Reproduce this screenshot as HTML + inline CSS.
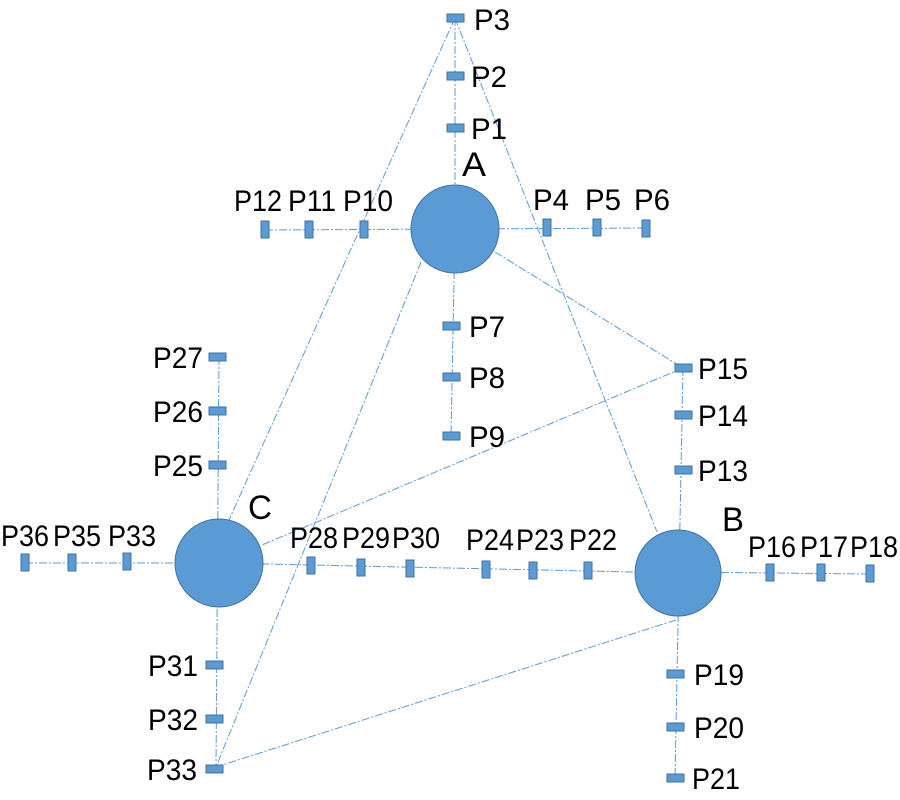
<!DOCTYPE html>
<html><head><meta charset="utf-8"><style>body{margin:0;background:#fff}svg{display:block}</style></head><body>
<svg width="900" height="800" viewBox="0 0 900 800" xmlns="http://www.w3.org/2000/svg">
<g stroke="#5b9bd5" stroke-width="1" fill="none" stroke-dasharray="8,2,2,2">
<line x1="455" y1="18" x2="455" y2="229"/>
<line x1="455" y1="18" x2="229" y2="520"/>
<line x1="455" y1="18" x2="657" y2="532"/>
<line x1="455" y1="229" x2="451" y2="436"/>
<line x1="265" y1="230" x2="455" y2="229"/>
<line x1="455" y1="229" x2="646" y2="228"/>
<line x1="495" y1="252" x2="683" y2="368"/>
<line x1="683" y1="368" x2="262" y2="545"/>
<line x1="683" y1="368" x2="679" y2="572"/>
<line x1="421" y1="262" x2="216" y2="767"/>
<line x1="676" y1="620" x2="216" y2="767"/>
<line x1="219" y1="357" x2="216" y2="769"/>
<line x1="25" y1="563" x2="219" y2="563"/>
<line x1="219" y1="563" x2="679" y2="573"/>
<line x1="679" y1="572" x2="870" y2="574"/>
<line x1="679" y1="572" x2="675" y2="778"/>
</g>
<g fill="#5b9bd5" stroke="#41719c" stroke-width="1">
<circle cx="455" cy="229" r="44"/>
<circle cx="678" cy="573" r="43"/>
<circle cx="219" cy="563" r="44"/>
<rect x="447" y="14" width="17" height="8"/>
<rect x="447" y="72" width="17" height="8"/>
<rect x="447" y="124" width="17" height="8"/>
<rect x="443" y="322" width="17" height="8"/>
<rect x="443" y="373" width="17" height="8"/>
<rect x="443" y="432" width="17" height="8"/>
<rect x="675" y="364" width="17" height="8"/>
<rect x="675" y="411" width="17" height="8"/>
<rect x="675" y="466" width="17" height="8"/>
<rect x="667" y="670" width="17" height="8"/>
<rect x="667" y="723" width="17" height="8"/>
<rect x="667" y="774" width="17" height="8"/>
<rect x="209" y="353" width="17" height="8"/>
<rect x="209" y="407" width="17" height="8"/>
<rect x="209" y="461" width="17" height="8"/>
<rect x="206" y="661" width="17" height="8"/>
<rect x="206" y="715" width="17" height="8"/>
<rect x="206" y="765" width="17" height="8"/>
<rect x="261" y="221" width="8" height="17"/>
<rect x="305" y="221" width="8" height="17"/>
<rect x="360" y="221" width="8" height="17"/>
<rect x="543" y="219" width="8" height="17"/>
<rect x="593" y="219" width="8" height="17"/>
<rect x="642" y="220" width="8" height="17"/>
<rect x="766" y="564" width="8" height="17"/>
<rect x="817" y="564" width="8" height="17"/>
<rect x="866" y="565" width="8" height="17"/>
<rect x="21" y="554" width="8" height="17"/>
<rect x="68" y="554" width="8" height="17"/>
<rect x="123" y="553" width="8" height="17"/>
<rect x="307" y="557" width="8" height="17"/>
<rect x="357" y="559" width="8" height="17"/>
<rect x="406" y="560" width="8" height="17"/>
<rect x="482" y="561" width="8" height="17"/>
<rect x="529" y="562" width="8" height="17"/>
<rect x="584" y="562" width="8" height="17"/>
</g>
<g font-family="Liberation Sans, sans-serif" font-size="30" fill="#000">
<text x="474" y="30" textLength="36" lengthAdjust="spacingAndGlyphs">P3</text>
<text x="471" y="87" textLength="36" lengthAdjust="spacingAndGlyphs">P2</text>
<text x="471" y="139" textLength="36" lengthAdjust="spacingAndGlyphs">P1</text>
<text x="462" y="176" font-size="34" textLength="24" lengthAdjust="spacingAndGlyphs">A</text>
<text x="234" y="211" textLength="48" lengthAdjust="spacingAndGlyphs">P12</text>
<text x="288" y="211" textLength="48" lengthAdjust="spacingAndGlyphs">P11</text>
<text x="343" y="211" textLength="50" lengthAdjust="spacingAndGlyphs">P10</text>
<text x="533" y="210" textLength="36" lengthAdjust="spacingAndGlyphs">P4</text>
<text x="585" y="210" textLength="36" lengthAdjust="spacingAndGlyphs">P5</text>
<text x="634" y="210" textLength="36" lengthAdjust="spacingAndGlyphs">P6</text>
<text x="469" y="337" textLength="36" lengthAdjust="spacingAndGlyphs">P7</text>
<text x="469" y="388" textLength="36" lengthAdjust="spacingAndGlyphs">P8</text>
<text x="469" y="447" textLength="36" lengthAdjust="spacingAndGlyphs">P9</text>
<text x="698" y="379" textLength="50" lengthAdjust="spacingAndGlyphs">P15</text>
<text x="698" y="426" textLength="50" lengthAdjust="spacingAndGlyphs">P14</text>
<text x="698" y="481" textLength="50" lengthAdjust="spacingAndGlyphs">P13</text>
<text x="722" y="531" font-size="34" textLength="22" lengthAdjust="spacingAndGlyphs">B</text>
<text x="748" y="557" textLength="48" lengthAdjust="spacingAndGlyphs">P16</text>
<text x="800" y="557" textLength="48" lengthAdjust="spacingAndGlyphs">P17</text>
<text x="850" y="557" textLength="48" lengthAdjust="spacingAndGlyphs">P18</text>
<text x="694" y="685" textLength="50" lengthAdjust="spacingAndGlyphs">P19</text>
<text x="694" y="738" textLength="50" lengthAdjust="spacingAndGlyphs">P20</text>
<text x="692" y="789" textLength="48" lengthAdjust="spacingAndGlyphs">P21</text>
<text x="248" y="519" font-size="34" textLength="24" lengthAdjust="spacingAndGlyphs">C</text>
<text x="153" y="368" textLength="50" lengthAdjust="spacingAndGlyphs">P27</text>
<text x="153" y="422" textLength="50" lengthAdjust="spacingAndGlyphs">P26</text>
<text x="153" y="476" textLength="50" lengthAdjust="spacingAndGlyphs">P25</text>
<text x="1" y="546" textLength="48" lengthAdjust="spacingAndGlyphs">P36</text>
<text x="53" y="546" textLength="48" lengthAdjust="spacingAndGlyphs">P35</text>
<text x="108" y="546" textLength="48" lengthAdjust="spacingAndGlyphs">P33</text>
<text x="290" y="548" textLength="48" lengthAdjust="spacingAndGlyphs">P28</text>
<text x="342" y="548" textLength="48" lengthAdjust="spacingAndGlyphs">P29</text>
<text x="392" y="548" textLength="48" lengthAdjust="spacingAndGlyphs">P30</text>
<text x="466" y="550" textLength="48" lengthAdjust="spacingAndGlyphs">P24</text>
<text x="516" y="550" textLength="48" lengthAdjust="spacingAndGlyphs">P23</text>
<text x="569" y="550" textLength="48" lengthAdjust="spacingAndGlyphs">P22</text>
<text x="148" y="676" textLength="50" lengthAdjust="spacingAndGlyphs">P31</text>
<text x="148" y="730" textLength="50" lengthAdjust="spacingAndGlyphs">P32</text>
<text x="147" y="780" textLength="50" lengthAdjust="spacingAndGlyphs">P33</text>
</g>
</svg>
</body></html>
